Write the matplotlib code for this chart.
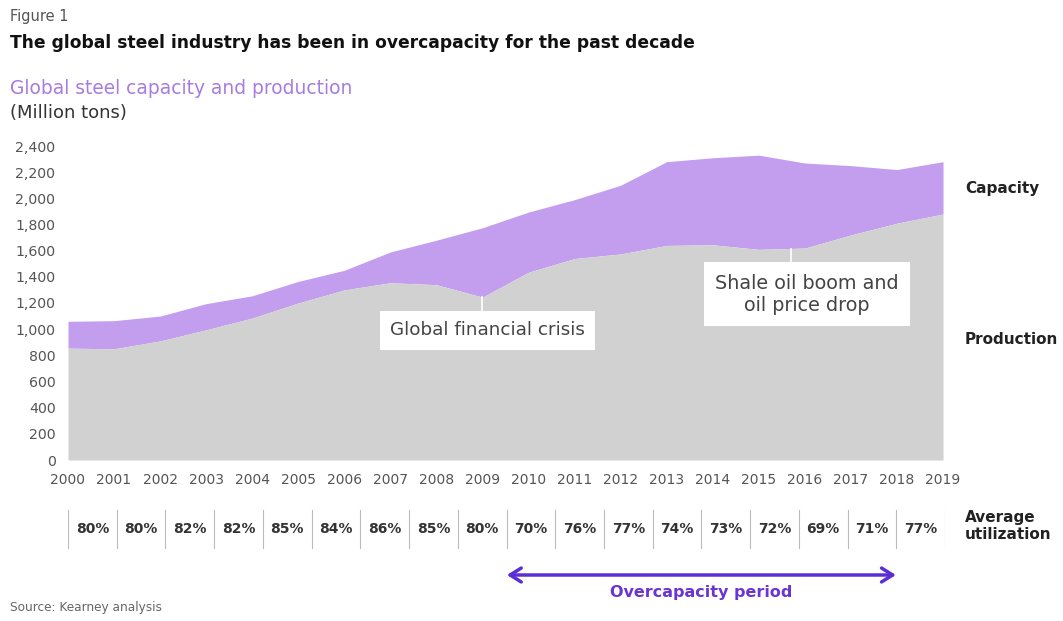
import numpy as np
import matplotlib
matplotlib.use("Agg")
import matplotlib.pyplot as plt

plt.rcParams['font.family'] = ['DejaVu Sans']

# data (million tons)
years = list(range(2000, 2020))
capacity = [1060, 1065, 1100, 1195, 1255, 1365, 1450, 1590, 1680, 1775,
            1895, 1990, 2100, 2280, 2310, 2330, 2270, 2250, 2220, 2280]
production = [855, 850, 910, 995, 1085, 1200, 1300, 1355, 1340, 1245,
              1435, 1540, 1575, 1640, 1645, 1610, 1620, 1720, 1810, 1880]
utilization = ['80%', '80%', '82%', '82%', '85%', '84%', '86%', '85%', '80%',
               '70%', '76%', '77%', '74%', '73%', '72%', '69%', '71%', '77%']
yticks = list(range(0, 2401, 200))

W, H = 1063, 621
fig = plt.figure(figsize=(W / 100, H / 100), dpi=100)


def fx(x):
    return x / W


def fy(y):
    return 1 - y / H


purple = '#C39DEE'
grey = '#D1D1D1'
arrow_c = '#5B2FD6'
txt = '#333333'

# main area chart
ax = fig.add_axes([fx(68), fy(460), fx(943) - fx(68), fy(146) - fy(460)])
ax.fill_between(years, production, capacity, color=purple, lw=0)
ax.fill_between(years, 0, production, color=grey, lw=0)
ax.set_xlim(2000, 2019)
ax.set_ylim(0, 2400)
ax.set_yticks(yticks)
ax.set_yticklabels([f'{v:,}' for v in yticks], fontsize=10.2, color='#555555')
ax.set_xticks(years)
ax.set_xticklabels([str(y) for y in years], fontsize=10, color='#555555')
ax.tick_params(length=0, axis='y', pad=9)
ax.tick_params(length=0, axis='x', pad=9)
for s in ax.spines.values():
    s.set_visible(False)

# annotations
ax.plot([2009.0, 2009.0], [1245, 1120], color='white', lw=1.2)
ax.text(2009.1, 990, 'Global financial crisis', ha='center', va='center',
        fontsize=13.2, color='#444444',
        bbox=dict(boxstyle='square,pad=0.55', fc='white', ec='none'))
ax.plot([2015.7, 2015.7], [1615, 1500], color='white', lw=1.2)
ax.text(2016.05, 1265, 'Shale oil boom and\noil price drop', ha='center',
        va='center', fontsize=13.8, color='#444444', linespacing=1.2,
        bbox=dict(boxstyle='square,pad=0.6', fc='white', ec='none'))

# titles
fig.text(fx(10), fy(16), 'Figure 1', fontsize=10.5, color='#555555', va='center')
fig.text(fx(10), fy(43), 'The global steel industry has been in overcapacity for the past decade',
         fontsize=12.3, fontweight='bold', color='#111111', va='center')
fig.text(fx(10), fy(89), 'Global steel capacity and production', fontsize=13.4,
         color='#A77BE0', va='center')
fig.text(fx(10), fy(113), '(Million tons)', fontsize=13, color=txt, va='center')

# right side labels
fig.text(fx(965), fy(188), 'Capacity', fontsize=11, fontweight='bold', color='#222222', va='center')
fig.text(fx(965), fy(339), 'Production', fontsize=11, fontweight='bold', color='#222222', va='center')
fig.text(fx(965), fy(526), 'Average\nutilization', fontsize=11, fontweight='bold',
         color='#222222', va='center', linespacing=1.15)

# utilization row
ux = fig.add_axes([fx(68), fy(610), fx(945) - fx(68), fy(505) - fy(610)])
ux.set_xlim(0, len(utilization))
ux.set_ylim(0, 105)
ux.axis('off')
for i in range(len(utilization) + 1):
    ux.plot([i, i], [62, 100], color='#BBBBBB', lw=0.8)
for i, u in enumerate(utilization):
    ux.text(i + 0.5, 81, u, ha='center', va='center', fontsize=10,
            fontweight='bold', color='#333333')

# overcapacity arrow
ux.annotate('', xy=(8.95, 35), xytext=(17.05, 35),
            arrowprops=dict(arrowstyle='<->,head_length=0.8,head_width=0.5',
                            color=arrow_c, lw=2.5))
ux.text(13, 18, 'Overcapacity period', ha='center', va='center', fontsize=11.5,
        fontweight='bold', color='#6A35D0')

fig.text(fx(10), fy(608), 'Source: Kearney analysis', fontsize=8.7, color='#666666', va='center')

fig.savefig('out.png', dpi=100)
